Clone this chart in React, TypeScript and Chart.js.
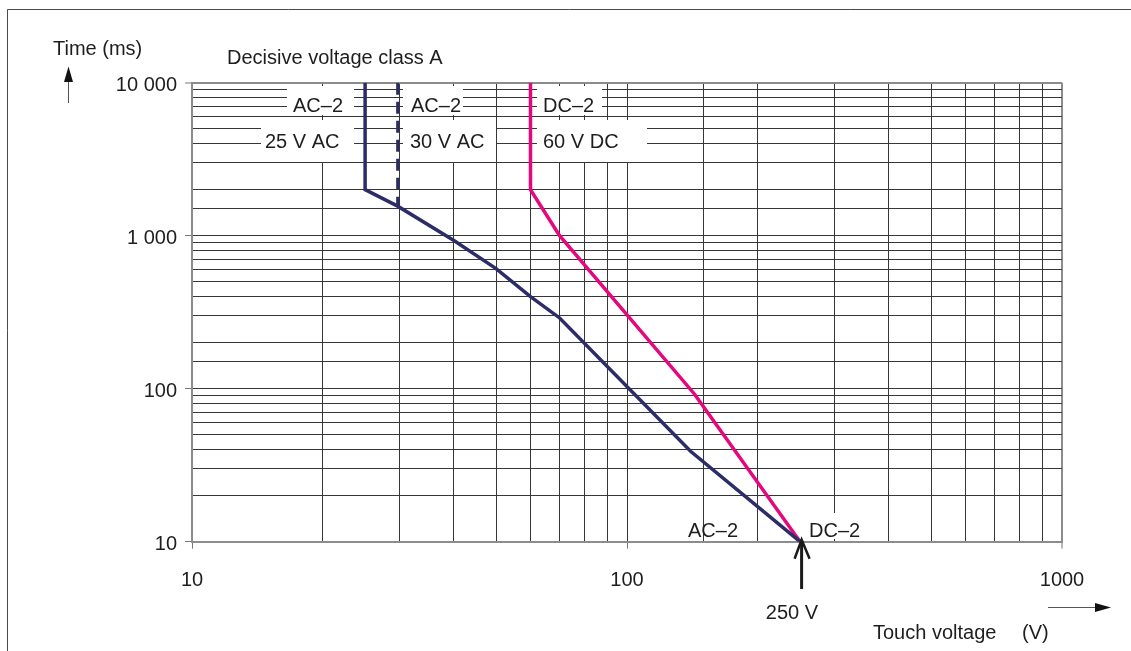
import React, { useEffect, useRef } from "react";
import { Chart, registerables } from "chart.js";

Chart.register(...registerables);

// ---- data ----
const acVoltage = [25, 25, 29.7, 40, 50, 60, 70, 140, 250];
const acTime = [10000, 2000, 1560, 930, 610, 400, 290, 39, 10];
const ac30Voltage = [29.7, 29.7];
const ac30Time = [10000, 1560];
const dcVoltage = [60, 60, 70, 143, 250];
const dcTime = [10000, 2000, 1000, 92, 10];

const xTickValues = [10, 100, 1000];
const xTickLabels = ["10", "100", "1000"];
const yTickValues = [10, 100, 1000, 10000];
const yTickLabels = ["10", "100", "1 000", "10 000"];

// ---- styles ----
const NAVY = "#2c2d68";
const MAGENTA = "#e6077f";
const GRID = "#363636";
const EDGE = "#8c8c8c";
const TEXT = "#1e1e1e";
const FONT = "'Liberation Sans', Arial, Helvetica, sans-serif";

type Note = { text: string; tx: number; ty: number; box?: [number, number, number, number] };
const curveNotes: Note[] = [
  { text: "AC–2", tx: 293, ty: 112, box: [287, 86, 354, 115] },
  { text: "25 V AC", tx: 265, ty: 148, box: [261, 120, 354, 162] },
  { text: "AC–2", tx: 411, ty: 112, box: [403, 86, 463, 115] },
  { text: "30 V AC", tx: 410, ty: 148, box: [403, 120, 496, 162] },
  { text: "DC–2", tx: 543, ty: 112, box: [537, 86, 602, 115] },
  { text: "60 V DC", tx: 543, ty: 148, box: [537, 120, 647, 162] },
  { text: "AC–2", tx: 688, ty: 537 },
  { text: "DC–2", tx: 809, ty: 537, box: [805, 513, 866, 539] },
];

const toPoints = (xs: number[], ys: number[]) => xs.map((x, i) => ({ x, y: ys[i] }));

const overlay = {
  id: "overlay",
  beforeDatasetsDraw(chart: any) {
    const ctx = chart.ctx as CanvasRenderingContext2D;
    ctx.save();
    ctx.fillStyle = "#ffffff";
    for (const n of curveNotes) {
      if (n.box) ctx.fillRect(n.box[0], n.box[1], n.box[2] - n.box[0], n.box[3] - n.box[1]);
    }
    ctx.font = `20px ${FONT}`;
    ctx.fillStyle = TEXT;
    ctx.textAlign = "left";
    ctx.textBaseline = "alphabetic";
    for (const n of curveNotes) ctx.fillText(n.text, n.tx, n.ty);
    ctx.restore();
  },
  afterDraw(chart: any) {
    const ctx = chart.ctx as CanvasRenderingContext2D;
    const area = chart.chartArea;
    ctx.save();
    // outer frame (left and top)
    ctx.strokeStyle = "#4a4a4a";
    ctx.lineWidth = 1;
    ctx.beginPath();
    ctx.moveTo(7.5, 651);
    ctx.lineTo(7.5, 9.5);
    ctx.lineTo(1131, 9.5);
    ctx.stroke();

    ctx.font = `20px ${FONT}`;
    ctx.fillStyle = TEXT;
    ctx.textBaseline = "alphabetic";
    ctx.textAlign = "left";
    ctx.fillText("Time (ms)", 53, 55);
    ctx.fillText("Decisive voltage class A", 227, 64);
    ctx.fillText("Touch voltage", 873, 639);
    ctx.fillText("(V)", 1022, 639);
    ctx.textAlign = "center";
    ctx.fillText("250 V", 792, 619);

    // up arrow next to the y title
    ctx.strokeStyle = "#555";
    ctx.fillStyle = "#111";
    ctx.lineWidth = 1;
    ctx.beginPath();
    ctx.moveTo(68.5, 103);
    ctx.lineTo(68.5, 78);
    ctx.stroke();
    ctx.beginPath();
    ctx.moveTo(68.5, 66.5);
    ctx.lineTo(64, 82);
    ctx.lineTo(73, 82);
    ctx.closePath();
    ctx.fill();

    // right arrow next to the x title
    ctx.beginPath();
    ctx.moveTo(1048, 607.5);
    ctx.lineTo(1100, 607.5);
    ctx.stroke();
    ctx.beginPath();
    ctx.moveTo(1111, 607.5);
    ctx.lineTo(1095, 603);
    ctx.lineTo(1095, 612);
    ctx.closePath();
    ctx.fill();

    // 250 V marker arrow
    const xs = chart.scales.x;
    const ax = xs.getPixelForValue(250) + 1.5;
    const tipY = area.bottom - 2;
    ctx.strokeStyle = "#1a1a1a";
    ctx.lineWidth = 3;
    ctx.beginPath();
    ctx.moveTo(ax, 589);
    ctx.lineTo(ax, tipY + 1);
    ctx.stroke();
    ctx.lineWidth = 2.5;
    ctx.beginPath();
    ctx.moveTo(ax - 7, tipY + 19);
    ctx.lineTo(ax, tipY);
    ctx.lineTo(ax + 8, tipY + 19);
    ctx.stroke();
    ctx.restore();
  },
};

export default function App() {
  const ref = useRef<HTMLCanvasElement | null>(null);

  useEffect(() => {
    document.body.style.margin = "0";
    const canvas = ref.current;
    if (!canvas) return;
    const edgeColor = (edgeVal: number) => (c: any) =>
      c.tick && Math.abs(c.tick.value - edgeVal) < 1e-6 ? EDGE : GRID;
    const edgeWidth = (edgeVal: number) => (c: any) =>
      c.tick && Math.abs(c.tick.value - edgeVal) < 1e-6 ? 2 : 1;
    const tickCol = (vals: number[]) => (c: any) =>
      c.tick && vals.includes(Number(c.tick.value)) ? "#777" : "rgba(0,0,0,0)";

    const chart = new Chart(canvas, {
      type: "scatter",
      data: {
        datasets: [
          {
            label: "AC-2 (25 V AC)",
            data: toPoints(acVoltage, acTime),
            showLine: true,
            borderColor: NAVY,
            backgroundColor: NAVY,
            borderWidth: 3.5,
            pointRadius: 0,
            borderJoinStyle: "miter",
          },
          {
            label: "AC-2 (30 V AC)",
            data: toPoints(ac30Voltage, ac30Time),
            showLine: true,
            borderColor: NAVY,
            backgroundColor: NAVY,
            borderWidth: 3,
            borderDash: [12, 7],
            pointRadius: 0,
          },
          {
            label: "DC-2 (60 V DC)",
            data: toPoints(dcVoltage, dcTime),
            showLine: true,
            borderColor: MAGENTA,
            backgroundColor: MAGENTA,
            borderWidth: 3.5,
            pointRadius: 0,
            borderJoinStyle: "miter",
          },
        ],
      },
      options: {
        responsive: false,
        animation: false,
        devicePixelRatio: 1,
        layout: { padding: { top: 82.7, right: 69, left: 0, bottom: 0 } },
        plugins: {
          legend: { display: false },
          tooltip: { enabled: false },
          title: { display: false },
        },
        scales: {
          x: {
            type: "logarithmic",
            min: 10,
            max: 1000,
            afterFit: (s: any) => {
              s.height = 109.3;
            },
            border: { display: true, color: EDGE, width: 2 },
            grid: {
              color: edgeColor(1000),
              lineWidth: edgeWidth(1000),
              tickLength: 7,
              tickColor: tickCol(xTickValues),
              tickWidth: 1,
            },
            ticks: {
              autoSkip: false,
              maxRotation: 0,
              padding: 20,
              color: TEXT,
              font: { size: 20, family: FONT },
              callback: (v: any) => {
                const i = xTickValues.indexOf(Number(v));
                return i >= 0 ? xTickLabels[i] : "";
              },
            },
          },
          y: {
            type: "logarithmic",
            min: 10,
            max: 10000,
            afterFit: (s: any) => {
              s.width = 192;
            },
            border: { display: true, color: EDGE, width: 2 },
            grid: {
              color: edgeColor(10000),
              lineWidth: edgeWidth(10000),
              tickLength: 7,
              tickColor: tickCol(yTickValues),
              tickWidth: 1,
            },
            ticks: {
              autoSkip: false,
              padding: 8,
              labelOffset: 3,
              color: TEXT,
              font: { size: 20, family: FONT },
              callback: (v: any) => {
                const i = yTickValues.indexOf(Number(v));
                return i >= 0 ? yTickLabels[i] : "";
              },
            },
          },
        },
      },
      plugins: [overlay],
    } as any);
    return () => chart.destroy();
  }, []);

  return (
    <canvas
      ref={ref}
      width={1131}
      height={651}
      style={{ position: "absolute", left: 0, top: 0, width: 1131, height: 651 }}
    />
  );
}
